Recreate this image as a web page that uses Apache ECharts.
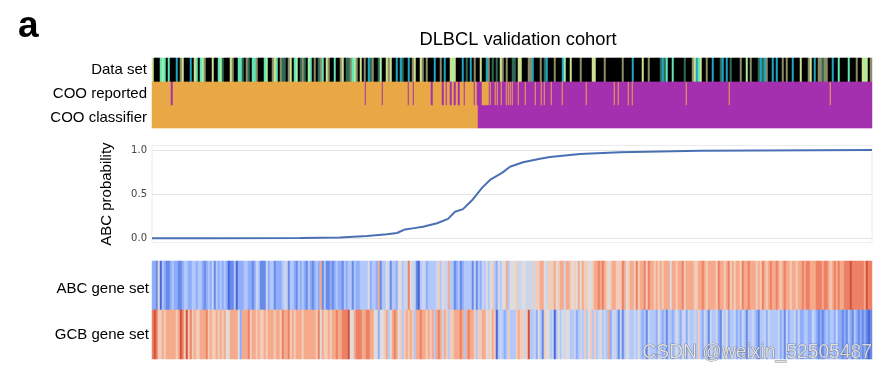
<!DOCTYPE html>
<html><head><meta charset="utf-8">
<style>html,body{margin:0;padding:0;background:#fff}#c{width:889px;height:372px}</style>
<script src="https://cdn.jsdelivr.net/npm/echarts@6/dist/echarts.min.js"></script></head>
<body><div id="c"></div>
<script>
// Data set strip: one digit per sample group (0 black, 1 light green, 2 aquamarine, 3 olive, 4 cyan, 5 dark green, 6 pale yellow)
const dataSetStrip = [
"6000212020","0040360004","0620213000","6002150006","3002250350","2230002100",
"3620355036","0210535012","0305320630","0200360553","2130603045","3005100636",
"0040450040","3600630300","0400304006","1600040504","0300600430","5050630300",
"5506600033","4000305400","0300041006","0000300000","6600003000","0000030000",
"4000060030","0000545200","2000005000","3642600300","4000540405","0000300103",
"0005454300","4040030300","4000600036","0403353300","4002000020","0030061603"];
// ABC / GCB gene-set heat levels (0 deep blue ... 9 deep red)
const abcGeneSet = [
"2215032112","3221123322","3323321232","4132323201","1302223322","1243111423",
"3122234413","3213232132","1232713112","1232213233","1322333352","3327133541",
"3325534485","4410344233","3346354473","3123123333","1413243535","6325355735",
"5564455444","6466775466","6756774776","5657576655","6778787656","7766687567",
"7686778687","7676767775","7767786777","7667787677","7768776786","7677687787",
"7767687678","7787678776","7767787887","7788878876","7878778889","8888887988"];
const gcbGeneSet = [
"8986676777","7767986968","6766777867","6676767557","7775277786","7767667677",
"7677687786","7677767777","7768576676","7787788895","5788877887","7552556735",
"7875636767","6377877676","7378747636","6777873787","7636677565","7603432363",
"3367664693","3425316553","4035354553","3423436356","3634534372","4431413543",
"3435323143","3325323133","2353244243","3436324314","3342143523","3423243133",
"4321334243","3334231423","3424223322","4321212323","3242212132","1321212101"];
// COO: sample positions (of 720) where reported call differs from classifier
const classifierSwitch = 326;
const reportedDiffers = [19,20,213,230,256,261,279,280,290,291,294,298,299,302,303,306,307,312,322,325,
 330,331,332,333,334,335,336,338,343,345,349,354,356,358,360,366,373,383,389,392,399,410,434,462,466,476,480,534,577,678];
// ABC probability by ordered sample position
const probX = [0,60,148,188,215,235,245,253,262,271,285,296,303,311,320,330,338,350,358,371,388,398,428,468,548,720];
const probY = [0,0.001,0.002,0.008,0.026,0.045,0.06,0.1,0.115,0.13,0.17,0.22,0.30,0.33,0.43,0.57,0.66,0.74,0.81,0.86,0.90,0.92,0.955,0.975,0.99,0.998];
const rowLabels1 = ["Data set"];
const rowLabels2 = ["COO classifier","COO reported"];
const rowLabels3 = ["GCB gene set","ABC gene set"];
const tickValues = [0,0.5,1];

const digits = a => a.join("").split("").map(Number);
const ds = digits(dataSetStrip), abc = digits(abcGeneSet), gcb = digits(gcbGeneSet);
const idx = n => Array.from({length:n},(_,i)=>i);
const classifier = idx(720).map(i=> i<classifierSwitch?0:1);
const reported = classifier.map((v,i)=> reportedDiffers.includes(i)?1-v:v);
const cooData=[]; idx(720).forEach(i=>{cooData.push([i,0,classifier[i]]);cooData.push([i,1,reported[i]]);});
const heatData=[]; abc.forEach((v,i)=>heatData.push([i,1,v])); gcb.forEach((v,i)=>heatData.push([i,0,v]));

const F='"Liberation Sans"';
const catX = (g,n)=>({type:'category',gridIndex:g,data:idx(n),show:false});
const labelBase={fontFamily:F,fontSize:15,color:'#000'};
const catY = (g,d,margin,shift)=>({type:'category',gridIndex:g,data:d,axisLine:{show:false},axisTick:{show:false},
  axisLabel:Object.assign({},labelBase,{margin:margin,
    formatter:v=>shift[v]?'{s|'+v+'}':v,
    rich:{s:Object.assign({},labelBase,{padding:[Object.values(shift)[0]||0,0,0,0]})}})});
const heat = (g,d)=>({type:'heatmap',xAxisIndex:g,yAxisIndex:g,data:d,progressive:0,itemStyle:{borderWidth:0},emphasis:{disabled:true}});

const chart=echarts.init(document.getElementById('c'),null,{renderer:'canvas'});
chart.setOption({
 animation:false,backgroundColor:'#fff',
 title:{text:'DLBCL validation cohort',left:513,top:26,textAlign:'center',textStyle:{fontFamily:F,fontSize:18.3,fontWeight:'normal',color:'#000'}},
 grid:[
  {left:152,width:720,top:58,height:24},
  {left:152,width:720,top:82,height:46},
  {left:152,width:720,top:145.5,height:97.2,show:true,borderColor:'#ececec',borderWidth:1,backgroundColor:'#fff'},
  {left:152,width:720,top:261,height:98}
 ],
 xAxis:[catX(0,ds.length),catX(1,720),
  {type:'value',gridIndex:2,min:0,max:720,show:false},
  catX(3,abc.length)],
 yAxis:[catY(0,rowLabels1,5,{}),catY(1,rowLabels2,5,{"COO classifier":3}),
  {type:'value',gridIndex:2,min:-0.05,max:1.05,name:'ABC probability',nameLocation:'middle',nameGap:38,
   nameTextStyle:{fontFamily:F,fontSize:15,color:'#000'},
   axisLine:{show:false},axisTick:{show:false,customValues:tickValues},
   axisLabel:{customValues:tickValues,formatter:v=>v.toFixed(1),fontFamily:'"DejaVu Sans"',fontSize:10,color:'#444',margin:5},
   splitLine:{show:true,lineStyle:{color:'#e4e4e4',width:1}}},
  catY(3,rowLabels3,3,{"ABC gene set":7})],
 visualMap:[
  {type:'piecewise',show:false,seriesIndex:0,dimension:2,pieces:[
    {value:0,color:'#000000'},{value:1,color:'#a4f0a0'},{value:2,color:'#62e4b4'},{value:3,color:'#8c8c68'},
    {value:4,color:'#1fa6c4'},{value:5,color:'#2f6a58'},{value:6,color:'#cde290'}]},
  {type:'piecewise',show:false,seriesIndex:1,dimension:2,pieces:[{value:0,color:'#e8a846'},{value:1,color:'#a430b0'}]},
  {type:'continuous',show:false,seriesIndex:3,dimension:2,min:0,max:9,
   inRange:{color:['#4a66da','#6a8ae8','#8fadfa','#b2c8fa','#c9d6ee','#dedcdc','#f3ccb9','#f6aa8c','#ec8166','#d4503c']}}
 ],
 series:[
  heat(0,ds.map((v,i)=>[i,0,v])),
  heat(1,cooData),
  {type:'line',xAxisIndex:2,yAxisIndex:2,data:probX.map((x,i)=>[x,probY[i]]),showSymbol:false,silent:true,
   lineStyle:{color:'#4a70b4',width:2}},
  heat(3,heatData)
 ],
 graphic:[
  {type:'text',left:18,top:8,style:{text:'a',fontFamily:F,fontSize:37,fontWeight:'bold',fill:'#000'}},
  {type:'text',left:642,top:343,z:100,style:{text:'CSDN @weixin_52505487',fontFamily:F,fontSize:19.3,fill:'rgba(235,235,235,0.8)',
    stroke:'rgba(90,90,90,0.85)',lineWidth:0.7,shadowColor:'rgba(0,0,0,0.35)',shadowBlur:1,shadowOffsetX:1,shadowOffsetY:1}}
 ]
});
</script></body></html>
